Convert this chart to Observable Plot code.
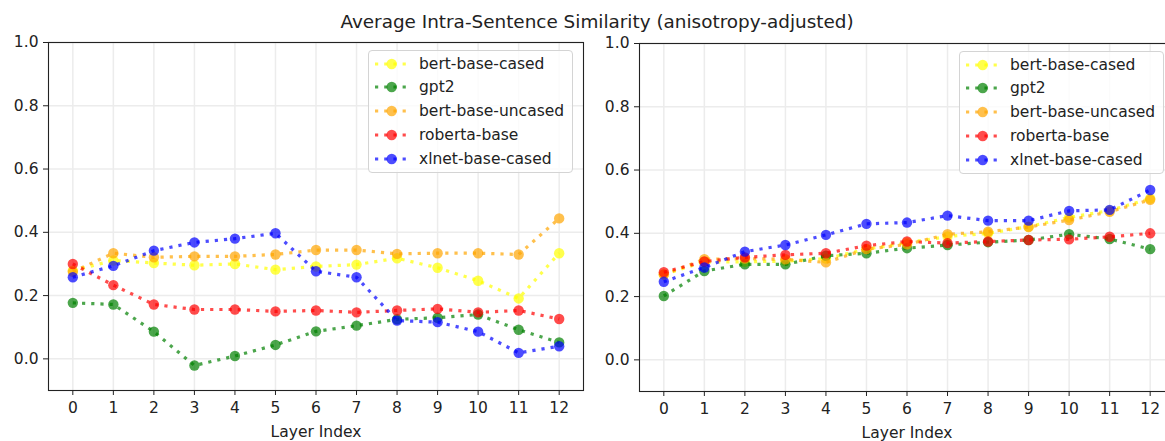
<!DOCTYPE html>
<html>
<head>
<meta charset="utf-8">
<script src="https://cdn.jsdelivr.net/npm/d3@7"></script>
<script src="https://cdn.jsdelivr.net/npm/@observablehq/plot@0.6"></script>
<style>
  html, body { margin: 0; padding: 0; background: white; }
  #fig { position: relative; width: 1165px; height: 441px; overflow: hidden; background: white; font-family: "DejaVu Sans", sans-serif; color: #222; }
  #title { position: absolute; left: 0; width: 1194px; top: 13px; text-align: center; font-size: 18.4px; line-height: 1; white-space: nowrap; }
  .panel { position: absolute; width: 590px; height: 411px; }
  .legend { position: absolute; left: 368px; top: 20px; width: 205px; height: 123px; border: 1px solid #d4d4d4; border-radius: 4px; background: rgba(255,255,255,0.8); box-sizing: border-box; }
  .row { position: absolute; left: 0; height: 20px; width: 100%; }
  .row svg { position: absolute; left: 5px; top: 0; }
  .row span { position: absolute; left: 50px; top: 0; line-height: 20px; font-size: 15.5px; white-space: nowrap; }
</style>
</head>
<body>
<div id="fig">
  <div id="title">Average Intra-Sentence Similarity (anisotropy-adjusted)</div>
</div>
<script>
const layers = [0, 1, 2, 3, 4, 5, 6, 7, 8, 9, 10, 11, 12];
const yTicks = [0, 0.2, 0.4, 0.6, 0.8, 1.0];
const models = ["bert-base-cased", "gpt2", "bert-base-uncased", "roberta-base", "xlnet-base-cased"];
const colors = ["yellow", "green", "orange", "red", "blue"];

// Left panel
const bertCasedL   = [0.279, 0.311, 0.303, 0.296, 0.300, 0.282, 0.292, 0.298, 0.318, 0.288, 0.247, 0.191, 0.334];
const gpt2L        = [0.177, 0.172, 0.086, -0.021, 0.009, 0.044, 0.087, 0.105, 0.125, 0.130, 0.140, 0.092, 0.052];
const bertUncasedL = [0.275, 0.334, 0.321, 0.324, 0.324, 0.330, 0.344, 0.344, 0.332, 0.334, 0.334, 0.330, 0.444];
const robertaL     = [0.300, 0.233, 0.172, 0.156, 0.156, 0.150, 0.153, 0.147, 0.153, 0.158, 0.147, 0.153, 0.126];
const xlnetL       = [0.258, 0.294, 0.342, 0.368, 0.380, 0.397, 0.277, 0.258, 0.121, 0.116, 0.086, 0.019, 0.040];

// Right panel
const bertCasedR   = [0.270, 0.310, 0.310, 0.312, 0.320, 0.350, 0.370, 0.390, 0.400, 0.421, 0.450, 0.472, 0.510];
const gpt2R        = [0.202, 0.281, 0.302, 0.302, 0.329, 0.337, 0.353, 0.363, 0.372, 0.379, 0.397, 0.382, 0.350];
const bertUncasedR = [0.270, 0.318, 0.320, 0.318, 0.308, 0.350, 0.365, 0.397, 0.405, 0.420, 0.442, 0.468, 0.506];
const robertaR     = [0.277, 0.311, 0.324, 0.332, 0.337, 0.361, 0.374, 0.369, 0.374, 0.379, 0.381, 0.389, 0.400];
const xlnetR       = [0.247, 0.292, 0.342, 0.363, 0.395, 0.430, 0.434, 0.456, 0.440, 0.440, 0.471, 0.474, 0.537];

const leftSeries = [bertCasedL, gpt2L, bertUncasedL, robertaL, xlnetL];
const rightSeries = [bertCasedR, gpt2R, bertUncasedR, robertaR, xlnetR];

const LW = 3.2, DASH = "3.2 6";

function makePanel(series, left, top) {
  const marks = [
    Plot.gridX(layers, {stroke: "#ececec", strokeOpacity: 1, strokeWidth: 1.5}),
    Plot.gridY(yTicks, {stroke: "#ececec", strokeOpacity: 1, strokeWidth: 1.5})
  ];
  series.forEach((vals, m) => {
    const rows = layers.map((l, i) => ({layer: l, value: vals[i], model: models[m]}));
    marks.push(Plot.line(rows, {x: "layer", y: "value", stroke: colors[m], strokeOpacity: 0.7, strokeWidth: LW, strokeDasharray: DASH, strokeLinecap: "butt"}));
    marks.push(Plot.dot(rows, {x: "layer", y: "value", r: 5.2, fill: colors[m], fillOpacity: 0.7}));
  });
  marks.push(Plot.frame({stroke: "#222", strokeWidth: 1.1}));
  marks.push(Plot.axisX(layers, {tickSize: 5, tickPadding: 6, label: "Layer Index", labelAnchor: "center", labelArrow: "none", labelOffset: 46}));
  marks.push(Plot.axisY(yTicks, {tickSize: 5, tickPadding: 5, tickFormat: d3.format(".1f"), label: null}));

  const chart = Plot.plot({
    width: 590, height: 411,
    marginLeft: 48, marginRight: 7, marginTop: 12, marginBottom: 51,
    x: {domain: [-0.6, 12.6]},
    y: {domain: [-0.1, 1.0]},
    style: {fontFamily: "DejaVu Sans", fontSize: "15.5px", color: "#222", background: "transparent", overflow: "visible"},
    marks
  });

  const panel = document.createElement("div");
  panel.className = "panel";
  panel.style.left = left + "px";
  panel.style.top = top + "px";
  panel.appendChild(chart);

  const legend = document.createElement("div");
  legend.className = "legend";
  models.forEach((name, i) => {
    const row = document.createElement("div");
    row.className = "row";
    row.style.top = (2.6 + i * 23.75) + "px";
    row.innerHTML =
      `<svg width="40" height="20"><line x1="1" x2="36" y1="10" y2="10" stroke="${colors[i]}" stroke-opacity="0.7" stroke-width="${LW}" stroke-dasharray="${DASH}"/>` +
      `<circle cx="17.7" cy="10" r="5.2" fill="${colors[i]}" fill-opacity="0.7"/></svg><span>${name}</span>`;
    legend.appendChild(row);
  });
  panel.appendChild(legend);
  document.getElementById("fig").appendChild(panel);
}

makePanel(leftSeries, 0, 30);
makePanel(rightSeries, 591, 31);
</script>
</body>
</html>
